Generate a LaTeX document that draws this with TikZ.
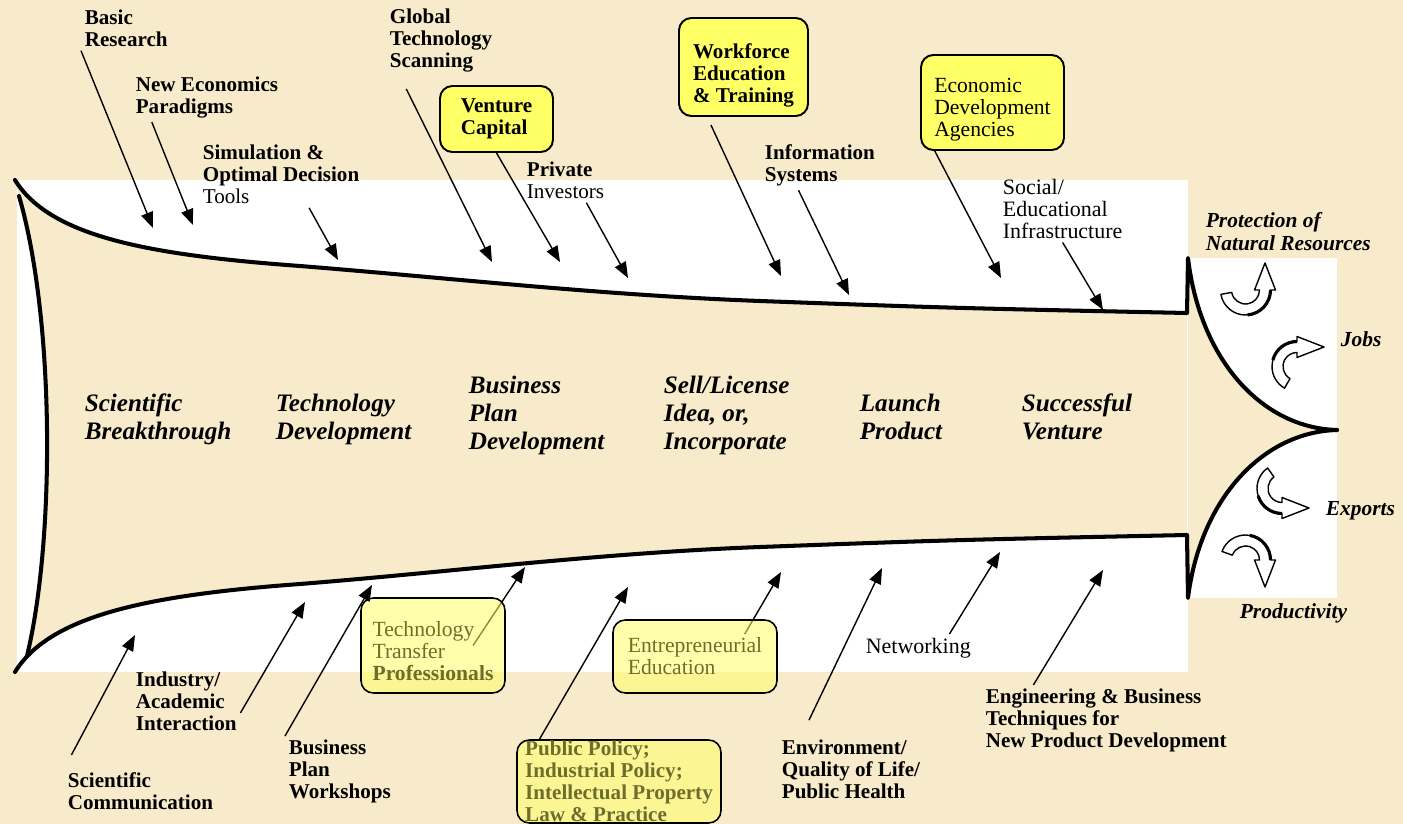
\documentclass[tikz,border=0pt]{standalone}
\usepackage{fontspec}
\setmainfont{Liberation Serif}
\usetikzlibrary{arrows.meta,calc}

\definecolor{parchment}{HTML}{F7EBCB}
\definecolor{boxyellow}{HTML}{FFFF66}
\definecolor{textolive}{HTML}{6E6E2C}

\pgfdeclarelayer{bg}
\pgfdeclarelayer{under}
\pgfsetlayers{bg,under,main}

% pushes the first line of a box down
\newcommand{\droptop}[1]{\rule{0pt}{#1}}

% hollow curved arrow: start angle, end angle, direction of the tip
\tikzset{
  pics/turnarrow/.style n args={3}{code={
    \filldraw[fill=white, draw=black, line width=0.8pt, line join=round]
      (#1:14) arc[start angle=#1, end angle=#2, radius=14]
      -- (#2:9) -- ($(#2:19.5)+(#3:27)$) -- (#2:30) -- (#2:25)
      arc[start angle=#2, end angle=#1, radius=25] -- cycle;
    \draw[line width=1.8pt] ({(#1+#2)/2}:25) arc[start angle={(#1+#2)/2}, end angle=#2, radius=25];
  }}
}

\begin{document}
\begin{tikzpicture}[x=0.02cm, y=-0.02cm,
    lbl/.style={anchor=north west, inner sep=2pt, align=left, font=\fontsize{12}{12.6}\selectfont\bfseries},
    stage/.style={anchor=north west, inner sep=2pt, align=left, font=\fontsize{14.3}{16}\selectfont\bfseries\itshape},
    outcome/.style={anchor=north west, inner sep=2pt, align=left, font=\fontsize{12.2}{12.6}\selectfont\bfseries\itshape},
    agency/.style={draw, line width=1.1pt, rounded corners=7pt, fill=boxyellow, inner sep=0pt, align=left, font=\fontsize{12}{12.6}\selectfont\bfseries},
    support/.style={draw, line width=0.9pt, rounded corners=7pt, fill=boxyellow, fill opacity=0.55, text opacity=1, text=textolive, inner sep=0pt, align=left, font=\fontsize{12.3}{12.6}\selectfont},
    feed/.style={line width=0.8pt, -{Triangle[length=9pt, width=7pt]}},
    rim/.style={line width=2.3pt, line cap=round, line join=round}]

    \useasboundingbox (0,0) rectangle (1403,824);

    % Background and white surround of the funnel
    \begin{pgfonlayer}{bg}
        \fill[parchment] (0,0) rectangle (1403,824);
        \fill[white] (17,180) rectangle (1188,672);
        \fill[white] (1188,258) rectangle (1337,598);
        \fill[parchment] (15,180) .. controls (50,237) and (150,255) .. (300,266)
            .. controls (450,278) and (600,295) .. (760,301) .. controls (950,308) .. (1187,313)
            -- (1187,535) .. controls (950,540) .. (760,547)
            .. controls (600,553) and (450,572) .. (300,584)
            .. controls (150,595) and (50,615) .. (15,672)
            -- (27,656) .. controls (55,540) and (55,320) .. (19,196) -- cycle;
        \fill[parchment] (1188,258) .. controls (1200,360) and (1262,428) .. (1337,430)
            .. controls (1262,432) and (1200,500) .. (1188,598) -- cycle;
    \end{pgfonlayer}

    % Funnel outline
    \draw[rim] (15,180) .. controls (50,237) and (150,255) .. (300,266)
        .. controls (450,278) and (600,295) .. (760,301) .. controls (950,308) .. (1187,313)
        -- (1188,258) .. controls (1200,360) and (1262,428) .. (1337,430);
    \draw[rim] (15,672) .. controls (50,615) and (150,595) .. (300,584)
        .. controls (450,572) and (600,553) .. (760,547) .. controls (950,540) .. (1187,535)
        -- (1188,598) .. controls (1200,500) and (1262,432) .. (1337,430);
    \draw[rim] (19,196) .. controls (55,320) and (55,540) .. (27,656);

    % Stages inside the funnel
    \node[stage] (science) at (81,390) {Scientific\\Breakthrough};
    \node[stage] (techdev) at (272,390) {Technology\\Development};
    \node[stage] (bizplan) at (465,372) {Business\\Plan\\Development};
    \node[stage] (sell) at (660,372) {Sell/License\\Idea, or,\\Incorporate};
    \node[stage] (launch) at (856,390) {Launch\\Product};
    \node[stage] (success) at (1018,390) {Successful\\Venture};

    % Outcomes
    \node[outcome] (protect) at (1202,209) {Protection of\\Natural Resources};
    \node[outcome] (jobs) at (1337,328) {Jobs};
    \node[outcome] (exports) at (1322,498) {Exports};
    \node[outcome] (productivity) at (1236,600) {Productivity};
    \pic at (1245.5,290) {turnarrow={170}{0}{-90}};
    \pic at (1297,366.5) {turnarrow={120}{270}{0}};
    \pic at (1282,488.5) {turnarrow={235}{90}{0}};
    \pic at (1245.5,560) {turnarrow={200}{360}{90}};

    % Inputs from above
    \node[lbl] (basic) at (81,6) {Basic\\Research};
    \node[lbl] (paradigms) at (132,73) {New Economics\\Paradigms};
    \node[lbl] (simulation) at (199,141) {Simulation \&\\Optimal Decision\\\textmd{Tools}};
    \node[lbl] (scanning) at (386,5) {Global\\Technology\\Scanning};
    \node[agency, minimum width=2.26cm, minimum height=1.32cm] (venture) at (496.5,119) {Venture\\Capital};
    \node[lbl] (private) at (523,158) {Private\\\textmd{Investors}};
    \node[agency, minimum width=2.58cm, minimum height=1.96cm] (workforce) at (743.5,67) {\droptop{18.4pt}Workforce\\Education\\\& Training};
    \node[lbl] (information) at (761,141) {Information\\Systems};
    \node[agency, minimum width=2.86cm, minimum height=1.9cm, font=\fontsize{12.3}{12.6}\selectfont] (agencies) at (992.5,102.5) {\droptop{16.2pt}Economic\\Development\\Agencies};
    \node[lbl, font=\fontsize{12.5}{12.6}\selectfont] (social) at (999,175) {Social/\\Educational\\Infrastructure};

    % Inputs from below
    \node[lbl] (scicomm) at (64,769) {Scientific\\Communication};
    \node[lbl] (industry) at (132,668) {Industry/\\Academic\\Interaction};
    \node[lbl] (workshops) at (285,736) {Business\\Plan\\Workshops};
    \node[support, minimum width=2.88cm, minimum height=1.9cm] (transfer) at (433,645.5) {\droptop{15pt}Technology\\Transfer\\\textbf{Professionals}};
    \node[support, minimum width=4.08cm, minimum height=1.66cm, font=\fontsize{12}{12.6}\selectfont\bfseries] (policy) at (619,781.5) {Public Policy;\\Industrial Policy;\\Intellectual Property\\Law \& Practice};
    \node[support, minimum width=3.28cm, minimum height=1.46cm] (entrepreneur) at (695,656.5) {Entrepreneurial\\Education};
    \node[lbl] (environment) at (778,736) {Environment/\\Quality of Life/\\Public Health};
    \node[lbl, font=\fontsize{12.5}{12.6}\selectfont] (networking) at (862,634) {Networking};
    \node[lbl] (engineering) at (982,685) {Engineering \& Business\\Techniques for\\New Product Development};

    % Arrow tips on the funnel
    \coordinate (basicTip) at (153,228);
    \coordinate (paradigmsTip) at (193,225);
    \coordinate (simulationTip) at (338,260);
    \coordinate (scanningTip) at (492,262);
    \coordinate (ventureTip) at (560,262);
    \coordinate (privateTip) at (628,278);
    \coordinate (workforceTip) at (781,276);
    \coordinate (informationTip) at (849,295);
    \coordinate (agenciesTip) at (1001,278);
    \coordinate (socialTip) at (1103,310);
    \coordinate (scicommTip) at (135,635);
    \coordinate (industryTip) at (305,602);
    \coordinate (workshopsTip) at (372,585);
    \coordinate (transferTip) at (525,567);
    \coordinate (policyTip) at (628,587);
    \coordinate (entrepreneurTip) at (781,572);
    \coordinate (environmentTip) at (882,568);
    \coordinate (networkingTip) at (1000,552);
    \coordinate (engineeringTip) at (1103,570);

    % Arrows
    \draw[feed] (basic.south west) -- (basicTip);
    \draw[feed] (paradigms.204) -- (paradigmsTip);
    \draw[feed] (simulation.-50) -- (simulationTip);
    \draw[feed, shorten <=8pt] (scanning.221) -- (scanningTip);
    \draw[feed] (venture.south) -- (ventureTip);
    \draw[feed] (private.-47) -- (privateTip);
    \draw[feed, shorten <=5pt] (workforce.234) -- (workforceTip);
    \draw[feed] (information.229) -- (informationTip);
    \draw[feed] (agencies.220) -- (agenciesTip);
    \draw[feed] (social.south) -- (socialTip);
    \draw[feed, shorten <=9pt] (scicomm.north west) -- (scicommTip);
    \draw[feed] (industry.-12) -- (industryTip);
    \draw[feed] (workshops.north west) -- (workshopsTip);
    \draw[feed] (policy.152) -- (policyTip);
    \draw[feed, shorten <=10pt] (environment.146) -- (environmentTip);
    \draw[feed] (networking.24) -- (networkingTip);
    \draw[feed] (engineering.154) -- (engineeringTip);
    \begin{pgfonlayer}{under}
        \draw[feed] ($(transfer.center)!0.55!(transfer.east)$) -- (transferTip);
        \draw[feed] ($(entrepreneur.center)!0.6!(entrepreneur.north east)$) -- (entrepreneurTip);
    \end{pgfonlayer}
\end{tikzpicture}
\end{document}
